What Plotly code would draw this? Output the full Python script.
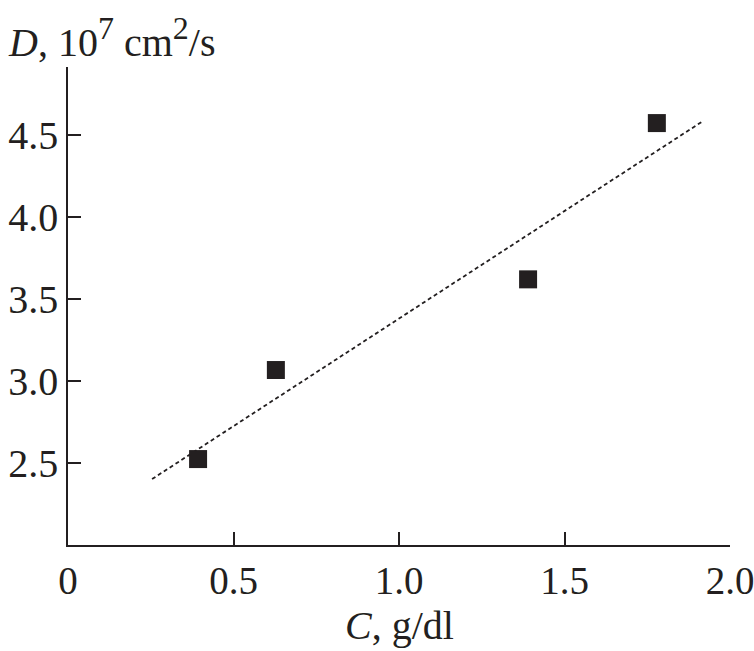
import plotly.graph_objects as go

conc = [0.393, 0.628, 1.39, 1.779]
diff = [2.524, 3.067, 3.62, 4.573]
fit_x = [0.254, 1.918]
fit_y = [2.402, 4.585]
x_ticks = [0, 0.5, 1.0, 1.5, 2.0]
x_tick_text = ["0", "0.5", "1.0", "1.5", "2.0"]
y_ticks = [2.5, 3.0, 3.5, 4.0, 4.5]
y_tick_text = ["2.5", "3.0", "3.5", "4.0", "4.5"]

ink = "#231f20"
font = "Liberation Serif"

fig = go.Figure()
fig.add_trace(go.Scatter(x=fit_x, y=fit_y, mode="lines",
                         line=dict(color=ink, width=1.8, dash="4px,3px"),
                         hoverinfo="skip"))
fig.add_trace(go.Scatter(x=conc, y=diff, mode="markers",
                         marker=dict(symbol="square", size=18, color=ink,
                                     line=dict(width=0))))

fig.update_layout(
    width=754, height=651,
    margin=dict(l=68, r=24, t=67, b=106),
    plot_bgcolor="white", paper_bgcolor="white",
    showlegend=False,
    font=dict(family=font, size=40, color=ink),
    xaxis=dict(range=[0, 2.0], tickvals=x_ticks, ticktext=x_tick_text,
               showgrid=False, zeroline=False, showline=True, automargin=False,
               ticklabeloverflow="allow",
               linecolor=ink, linewidth=1.6, ticks="inside", ticklen=13,
               tickwidth=1.6, tickcolor=ink, tickfont=dict(size=39)),
    yaxis=dict(range=[2.0, 4.915], tickvals=y_ticks, ticktext=y_tick_text,
               showgrid=False, zeroline=False, showline=True, automargin=False,
               ticklabeloverflow="allow",
               linecolor=ink, linewidth=1.6, ticks="inside", ticklen=13,
               tickwidth=1.6, tickcolor=ink, tickfont=dict(size=40)),
    annotations=[
        dict(text="<i>D</i>, 10<sup><span style='font-size:32px'>7</span></sup> cm"
                  "<sup><span style='font-size:32px'>2</span></sup>/s",
             xref="paper", yref="paper", x=0, y=1, xanchor="left",
             yanchor="middle", xshift=-62, yshift=30, showarrow=False,
             font=dict(size=40, family=font, color=ink)),
        dict(text="<i>C</i>, g/dl",
             xref="paper", yref="paper", x=0.5, y=0, xanchor="center",
             yanchor="middle", yshift=-80, showarrow=False,
             font=dict(size=40, family=font, color=ink)),
    ],
)

fig.write_html("out.html")
